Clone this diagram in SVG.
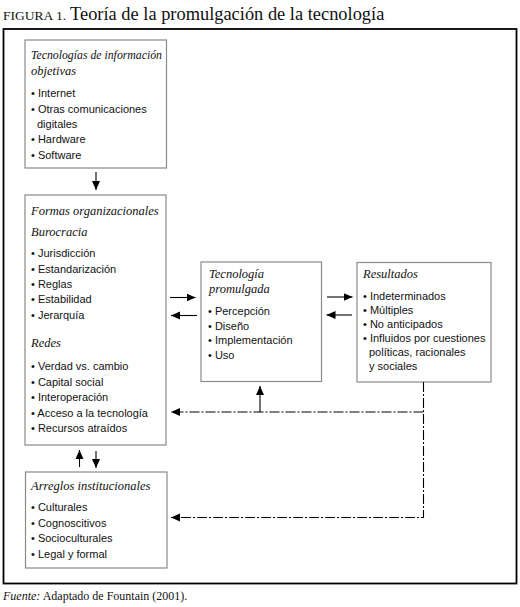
<svg xmlns="http://www.w3.org/2000/svg" width="520" height="607" viewBox="0 0 520 607">
<style>
.box{fill:#fff;stroke:#8a8a8a;stroke-width:1.2}
.hd{font-family:"Liberation Serif",serif;font-style:italic;font-size:12.5px;fill:#111}
.tx{font-family:"Liberation Sans",sans-serif;font-size:11px;fill:#111}
.ln{stroke:#000;stroke-width:1.1;fill:none}
.dd{stroke:#000;stroke-width:1.1;fill:none;stroke-dasharray:10 2 2 2}
</style>
<defs>
<marker id="ah" markerUnits="userSpaceOnUse" markerWidth="10" markerHeight="10" viewBox="0 0 10 10" refX="9" refY="5" orient="auto">
<path d="M0,1 L9,5 L0,9 Z" fill="#000"/>
</marker>
</defs>
<rect width="520" height="607" fill="#fff"/>
<text x="3" y="20" font-family="Liberation Serif,serif" fill="#111"><tspan font-size="13.5">FIGURA 1.</tspan><tspan font-size="18.4" dx="4">Teoría de la promulgación de la tecnología</tspan></text>
<rect x="3.5" y="29" width="513" height="554.5" fill="none" stroke="#000" stroke-width="1.8"/>
<g id="tecnologias">
<rect class="box" x="25" y="40" width="141.5" height="128"/>
<text class="hd" x="31" y="59" textLength="131" lengthAdjust="spacingAndGlyphs">Tecnologías de información</text>
<text class="hd" x="31" y="75">objetivas</text>
<text class="tx" x="31" y="97">• Internet</text>
<text class="tx" x="31" y="112.5">• Otras comunicaciones</text>
<text class="tx" x="37" y="128">digitales</text>
<text class="tx" x="31" y="143">• Hardware</text>
<text class="tx" x="31" y="158.5">• Software</text>
</g>
<g id="formas">
<rect class="box" x="25" y="195" width="141" height="250"/>
<text class="hd" x="31" y="215">Formas organizacionales</text>
<text class="hd" x="31" y="236">Burocracia</text>
<text class="tx" x="31" y="257">• Jurisdicción</text>
<text class="tx" x="31" y="272.5">• Estandarización</text>
<text class="tx" x="31" y="288">• Reglas</text>
<text class="tx" x="31" y="303">• Estabilidad</text>
<text class="tx" x="31" y="318.5">• Jerarquía</text>
<text class="hd" x="31" y="347">Redes</text>
<text class="tx" x="31" y="370">• Verdad vs. cambio</text>
<text class="tx" x="31" y="385.5">• Capital social</text>
<text class="tx" x="31" y="401">• Interoperación</text>
<text class="tx" x="31" y="416.5">• Acceso a la tecnología</text>
<text class="tx" x="31" y="432">• Recursos atraídos</text>
</g>
<g id="promulgada">
<rect class="box" x="201" y="262" width="120.5" height="119.5"/>
<text class="hd" x="209" y="278">Tecnología</text>
<text class="hd" x="209" y="293">promulgada</text>
<text class="tx" x="208" y="315">• Percepción</text>
<text class="tx" x="208" y="329.5">• Diseño</text>
<text class="tx" x="208" y="344">• Implementación</text>
<text class="tx" x="208" y="358.5">• Uso</text>
</g>
<g id="resultados">
<rect class="box" x="357" y="262.5" width="134" height="119.5"/>
<text class="hd" x="363" y="278">Resultados</text>
<text class="tx" x="363" y="300">• Indeterminados</text>
<text class="tx" x="363" y="314">• Múltiples</text>
<text class="tx" x="363" y="328">• No anticipados</text>
<text class="tx" x="363" y="342">• Influidos por cuestiones</text>
<text class="tx" x="369" y="356">políticas, racionales</text>
<text class="tx" x="369" y="370">y sociales</text>
</g>
<g id="arreglos">
<rect class="box" x="25.5" y="472" width="141.5" height="96"/>
<text class="hd" x="31" y="490">Arreglos institucionales</text>
<text class="tx" x="31" y="511">• Culturales</text>
<text class="tx" x="31" y="526.5">• Cognoscitivos</text>
<text class="tx" x="31" y="542">• Socioculturales</text>
<text class="tx" x="31" y="557.5">• Legal y formal</text>
</g>
<g id="connectors">
<line class="ln" x1="96" y1="172" x2="96" y2="190" marker-end="url(#ah)"/>
<line class="ln" x1="170" y1="297.5" x2="195.5" y2="297.5" marker-end="url(#ah)"/>
<line class="ln" x1="197" y1="315.5" x2="171" y2="315.5" marker-end="url(#ah)"/>
<line class="ln" x1="327" y1="297" x2="352.5" y2="297" marker-end="url(#ah)"/>
<line class="ln" x1="352" y1="315" x2="326.5" y2="315" marker-end="url(#ah)"/>
<line class="ln" x1="79.5" y1="467" x2="79.5" y2="450" marker-end="url(#ah)"/>
<line class="ln" x1="96" y1="451" x2="96" y2="468" marker-end="url(#ah)"/>
<path class="dd" d="M423.5,382 V517.5 H171" marker-end="url(#ah)"/>
<path class="dd" d="M423.5,412 H171" marker-end="url(#ah)"/>
<line class="ln" x1="260" y1="412" x2="260" y2="386" marker-end="url(#ah)"/>
</g>
<text x="3" y="600" font-family="Liberation Serif,serif" font-size="12" fill="#111"><tspan font-style="italic">Fuente:</tspan> Adaptado de Fountain (2001).</text>
</svg>
